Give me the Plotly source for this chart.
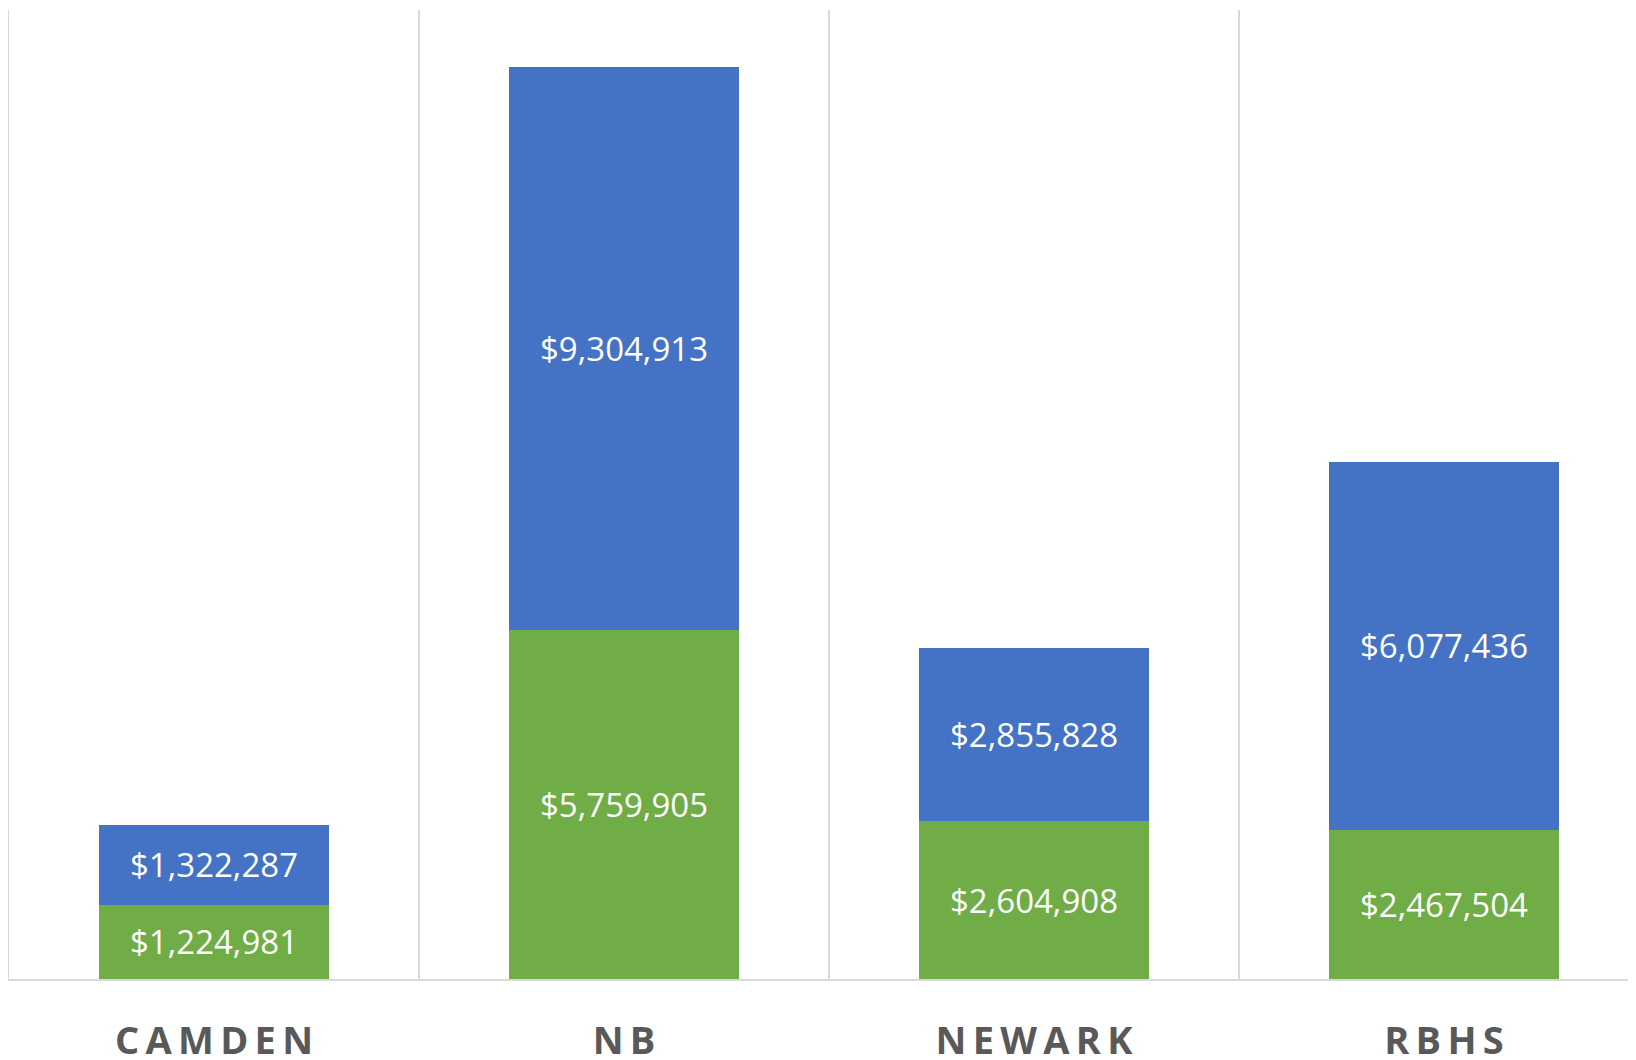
import plotly.graph_objects as go

categories = ["CAMDEN", "NB", "NEWARK", "RBHS"]
green_values = [1224981, 5759905, 2604908, 2467504]
blue_values = [1322287, 9304913, 2855828, 6077436]

HS = "\u2009"  # thin space for letter spacing of category labels
tick_text = [HS.join(list(c)) for c in categories]


def money(v):
    return "${:,}".format(v)


label_font = dict(family="Open Sans", size=33, color="white")

fig = go.Figure()
fig.add_trace(go.Bar(
    x=categories, y=green_values, name="Green",
    marker=dict(color="#70AD47", line=dict(width=0)),
    text=[money(v) for v in green_values],
    textposition="inside", insidetextanchor="middle",
    textfont=label_font,
    constraintext="none",
))
fig.add_trace(go.Bar(
    x=categories, y=blue_values, name="Blue",
    marker=dict(color="#4472C4", line=dict(width=0)),
    text=[money(v) for v in blue_values],
    textposition="inside", insidetextanchor="middle",
    textfont=label_font,
    constraintext="none",
))

# page body has an 8px default margin; the figure is sized to fit the window
fig.update_layout(
    barmode="stack",
    bargap=0.44,
    width=1628, height=1052,
    margin=dict(l=1, r=0, t=2, b=81, autoexpand=False),
    paper_bgcolor="white", plot_bgcolor="white",
    showlegend=False,
)
fig.update_xaxes(
    type="category",
    tickson="boundaries",
    range=[-0.5, -0.5 + 1627 / 410],
    tickvals=categories, ticktext=tick_text,
    showgrid=True, gridcolor="#D9D9D9", gridwidth=2,
    showline=True, linecolor="#D9D9D9", linewidth=2,
    ticks="", ticklabelstandoff=27,
    tickfont=dict(family="Open Sans", size=38, color="#595959", weight="bold"),
    zeroline=False,
)
fig.update_yaxes(
    range=[0, 16000000],
    showgrid=False, showticklabels=False, zeroline=False,
    showline=True, linecolor="#D9D9D9", linewidth=2,
)

fig.write_html("out.html")
